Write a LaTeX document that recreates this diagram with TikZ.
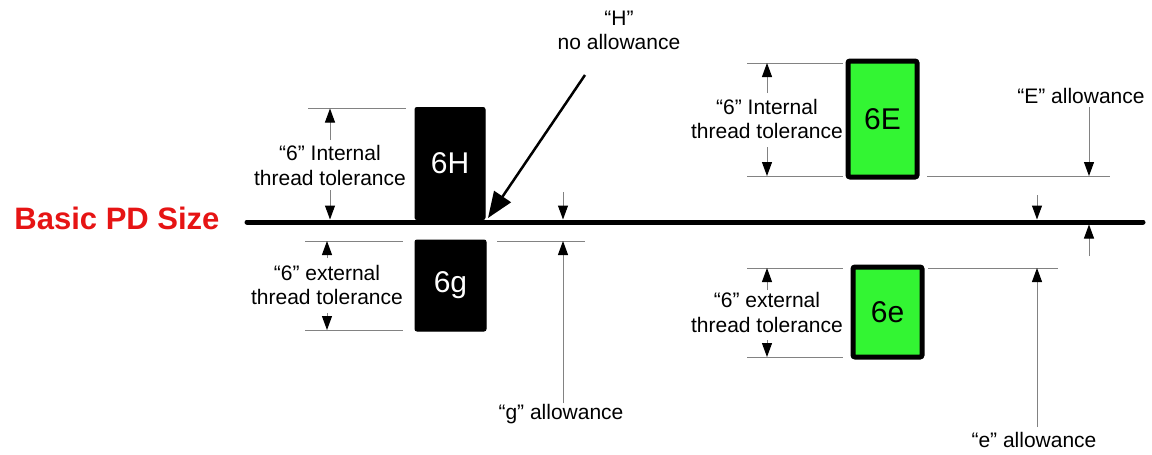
\documentclass[tikz,border=0pt]{standalone}
\usepackage{fontspec}
\setmainfont{Liberation Sans}
\usetikzlibrary{arrows.meta}
\definecolor{boxgreen}{RGB}{51,245,51}
\definecolor{dimgray}{RGB}{130,130,130}
\definecolor{titlered}{RGB}{230,20,20}
\tikzset{
  lbl/.style={inner sep=0pt, align=center, font=\fontsize{21}{24.5}\selectfont},
  blackbox/.style={draw=black, fill=black, rounded corners=2pt, line width=1pt, text=white,
    font=\fontsize{30}{30}\selectfont, inner sep=0pt},
  greenbox/.style={draw=black, fill=boxgreen, rounded corners=2pt, line width=5pt, text=black,
    font=\fontsize{30}{30}\selectfont, inner sep=0pt},
  ext/.style={draw=dimgray, line width=1pt},
  dim/.style={draw=dimgray, line width=1pt, -{Triangle[length=14pt,width=10pt,color=black]}},
  bigarrow/.style={draw=black, line width=2.5pt, -{Triangle[length=26pt,width=20pt]}},
  baseline/.style={draw=black, line width=5pt, line cap=round}
}
\begin{document}
\begin{tikzpicture}[x=1pt,y=-1pt]
\useasboundingbox (0,0) rectangle (1152,455);
% main line
\coordinate (bl0) at (247,222);
\coordinate (bl1) at (1143,222);
\draw[baseline] (bl0) -- (bl1);
\node[inner sep=0pt, text=titlered, font=\fontsize{31}{31}\selectfont\bfseries] (basic) at (117,218) {Basic PD Size};

% black boxes
\node[blackbox, minimum width=70pt, minimum height=112pt] (b6H) at (450,163.5) {6H};
\node[blackbox, minimum width=71pt, minimum height=91pt] (b6g) at (450.5,285.5) {6g};

% green boxes
\node[greenbox, minimum width=69pt, minimum height=116pt] (b6E) at (882.5,119) {6E};
\node[greenbox, minimum width=69pt, minimum height=90pt] (b6e) at (887.5,312) {6e};

% ---- left upper: 6 internal
\coordinate (lu0) at (308,108); \coordinate (lu1) at (406,108);
\draw[ext] (lu0) -- (lu1);
\node[lbl] (tInt) at (330,165.5) {“6” Internal\\thread tolerance};
\coordinate (luA0) at (330,140); \coordinate (luA1) at (330,108.5);
\coordinate (luB0) at (330,190); \coordinate (luB1) at (330,219.5);
\draw[dim] (luA0) -- (luA1);
\draw[dim] (luB0) -- (luB1);

% ---- left lower: 6 external
\coordinate (ll0) at (305,241); \coordinate (ll1) at (403,241);
\coordinate (ll2) at (305,330); \coordinate (ll3) at (403,330);
\draw[ext] (ll0) -- (ll1);
\draw[ext] (ll2) -- (ll3);
\node[lbl] (tExt) at (327,285) {“6” external\\thread tolerance};
\coordinate (llA0) at (327,258); \coordinate (llA1) at (327,241);
\coordinate (llB0) at (327,313); \coordinate (llB1) at (327,330);
\draw[dim] (llA0) -- (llA1);
\draw[dim] (llB0) -- (llB1);

% ---- g allowance
\coordinate (g0) at (497,241); \coordinate (g1) at (585,241);
\draw[ext] (g0) -- (g1);
\node[lbl] (tg) at (561,414) {“g” allowance};
\coordinate (gA0) at (563,403); \coordinate (gA1) at (563,241);
\draw[dim] (gA0) -- (gA1);
\coordinate (gB0) at (563,192); \coordinate (gB1) at (563,219.5);
\draw[dim] (gB0) -- (gB1);

% ---- H no allowance
\node[lbl] (tH) at (619,30.5) {“H”\\no allowance};
\coordinate (hA0) at (585,75); \coordinate (hA1) at (488,218);
\draw[bigarrow] (hA0) -- (hA1);

% ---- right upper: 6E
\coordinate (ru0) at (747,63); \coordinate (ru1) at (843,63);
\coordinate (ru2) at (747,176); \coordinate (ru3) at (843,176);
\coordinate (ru4) at (927,176); \coordinate (ru5) at (1110,176);
\draw[ext] (ru0) -- (ru1);
\draw[ext] (ru2) -- (ru3);
\draw[ext] (ru4) -- (ru5);
\node[lbl] (tInt2) at (767,119) {“6” Internal\\thread tolerance};
\coordinate (ruA0) at (767,93); \coordinate (ruA1) at (767,63);
\coordinate (ruB0) at (767,147); \coordinate (ruB1) at (767,176);
\draw[dim] (ruA0) -- (ruA1);
\draw[dim] (ruB0) -- (ruB1);

% ---- E allowance
\node[lbl] (tE) at (1081,96) {“E” allowance};
\coordinate (eA0) at (1089,107); \coordinate (eA1) at (1089,176);
\draw[dim] (eA0) -- (eA1);
\coordinate (eB0) at (1037,195); \coordinate (eB1) at (1037,219.5);
\draw[dim] (eB0) -- (eB1);
\coordinate (eC0) at (1089,256); \coordinate (eC1) at (1089,224.5);
\draw[dim] (eC0) -- (eC1);

% ---- right lower: 6e
\coordinate (rl0) at (747,268); \coordinate (rl1) at (843,268);
\coordinate (rl2) at (747,357); \coordinate (rl3) at (843,357);
\coordinate (rl4) at (928,268); \coordinate (rl5) at (1058,268);
\draw[ext] (rl0) -- (rl1);
\draw[ext] (rl2) -- (rl3);
\draw[ext] (rl4) -- (rl5);
\node[lbl] (tExt2) at (767,312.5) {“6” external\\thread tolerance};
\coordinate (rlA0) at (767,290); \coordinate (rlA1) at (767,268);
\coordinate (rlB0) at (767,340); \coordinate (rlB1) at (767,357);
\draw[dim] (rlA0) -- (rlA1);
\draw[dim] (rlB0) -- (rlB1);

% ---- e allowance
\node[lbl] (te) at (1034,440) {“e” allowance};
\coordinate (ea0) at (1037,427); \coordinate (ea1) at (1037,268);
\draw[dim] (ea0) -- (ea1);
\end{tikzpicture}
\end{document}
